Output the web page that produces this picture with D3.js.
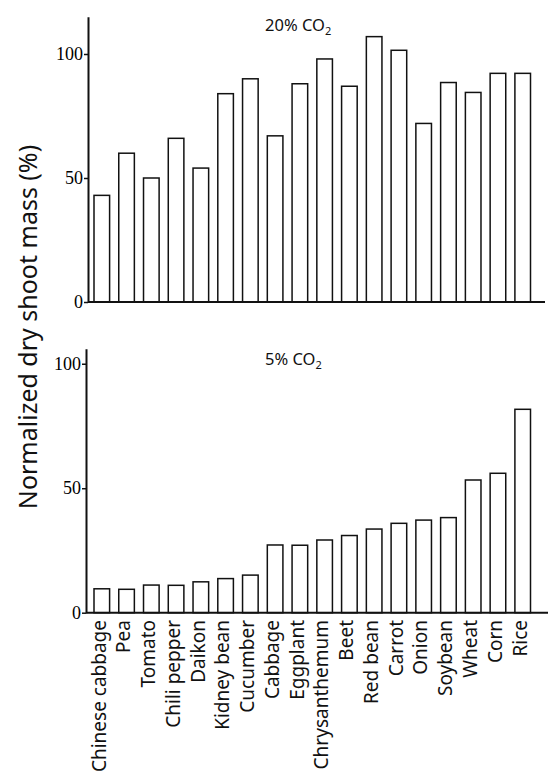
<!DOCTYPE html>
<html>
<head>
<meta charset="utf-8">
<script src="https://cdn.jsdelivr.net/npm/d3@7"></script>
<style>
  body { margin: 0; background: #fff; }
</style>
</head>
<body>
<div id="chart"></div>
<script>

var crops = ['Chinese cabbage', 'Pea', 'Tomato', 'Chili pepper', 'Daikon', 'Kidney bean',
    'Cucumber', 'Cabbage', 'Eggplant', 'Chrysanthemum', 'Beet', 'Red bean', 'Carrot',
    'Onion', 'Soybean', 'Wheat', 'Corn', 'Rice'];

// dry shoot mass at 20% CO2 (% of control)
var mass20 = [43, 60, 50, 66, 54, 84, 90, 67, 88, 98, 87, 107, 101.5, 72, 88.5, 84.5, 92.2, 92.2];

// dry shoot mass at 5% CO2 (% of control)
var mass5 = [9.6, 9.4, 11.1, 11, 12.4, 13.7, 15.1, 27.2, 27.1, 29.2, 31, 33.6, 35.9, 37.2, 38.2, 53.3, 56, 81.7];

var yTicks = [0, 50, 100];

var svg = d3.select('#chart')
    .append('svg')
        .attr('width', 550)
        .attr('height', 776)
        .style('background', 'white');

var x = d3.scaleBand()
    .domain(crops)
    .range([94, 530.5])
    .paddingInner(0.37)
    .paddingOuter(0);

function drawPanel(values, y, axisX, axisEnd, title, titleY) {

    var g = svg.append('g');

    g.selectAll('rect')
        .data(values)
        .enter()
        .append('rect')
            .attr('x', function(d, i) { return x(crops[i]); })
            .attr('y', function(d) { return y(d); })
            .attr('width', x.bandwidth())
            .attr('height', function(d) { return y(0) - y(d); })
            .style('fill', 'white')
            .style('stroke', '#111')
            .style('stroke-width', 1.5);

    // baseline
    g.append('line')
        .attr('x1', axisX)
        .attr('x2', axisEnd)
        .attr('y1', y(0))
        .attr('y2', y(0))
        .attr('stroke', '#111')
        .style('stroke-width', 2);

    var yAxis = g.append('g')
        .attr('transform', 'translate(' + axisX + ',0)')
        .call(d3.axisLeft(y).tickValues(yTicks).tickSize(4).tickSizeOuter(0).tickPadding(1));

    yAxis.select('.domain').attr('stroke', '#111').style('stroke-width', 2);
    yAxis.selectAll('.tick line').attr('stroke', '#111').style('stroke-width', 1.5);
    yAxis.selectAll('.tick text')
        .style('font-family', '"Liberation Serif", serif')
        .style('font-size', '18px')
        .attr('fill', '#000');

    var t = g.append('text')
        .attr('x', 265)
        .attr('y', titleY)
        .style('font-family', '"Noto Sans", sans-serif')
        .style('font-size', '16.5px')
        .attr('fill', '#111')
        .text(title);
    t.append('tspan')
        .attr('dy', 4)
        .style('font-size', '11px')
        .text('2');

    return g;
}

var yTop = d3.scaleLinear().domain([0, 115]).range([302, 16.8]);
var yBottom = d3.scaleLinear().domain([0, 106]).range([612.7, 348.8]);

drawPanel(mass20, yTop, 88, 545, '20% CO', 31);
var bottom = drawPanel(mass5, yBottom, 86, 548, '5% CO', 365);

// crop names under the lower panel
bottom.selectAll('.crop')
    .data(crops)
    .enter()
    .append('text')
        .attr('class', 'crop')
        .attr('transform', function(d) {
            return 'translate(' + (x(d) + x.bandwidth() / 2) + ',620) rotate(-90)';
        })
        .attr('dy', '0.2em')
        .attr('text-anchor', 'end')
        .style('font-family', '"Noto Sans", sans-serif')
        .style('font-size', '19px')
        .attr('fill', '#111')
        .text(function(d) { return d; });

svg.append('text')
    .attr('transform', 'translate(37,327) rotate(-90)')
    .attr('text-anchor', 'middle')
    .style('font-family', '"Noto Sans", sans-serif')
    .style('font-size', '25px')
    .attr('fill', '#111')
    .text('Normalized dry shoot mass (%)');

</script>
</body>
</html>
